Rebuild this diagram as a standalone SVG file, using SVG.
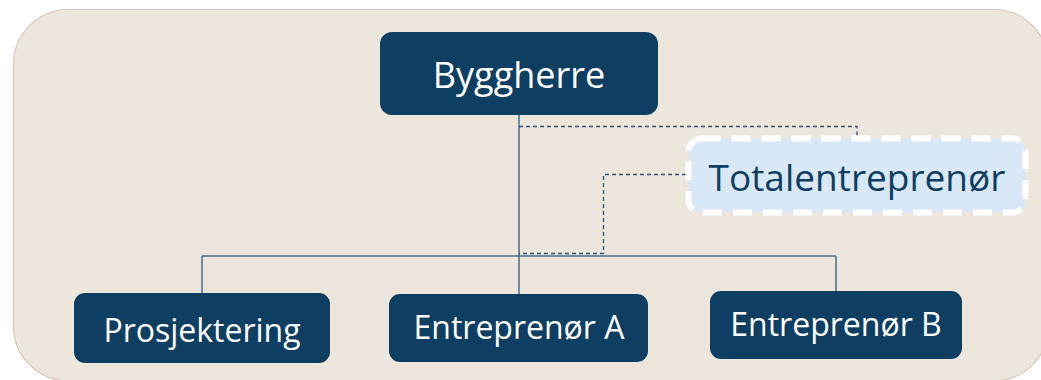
<svg xmlns="http://www.w3.org/2000/svg" width="1041" height="380" viewBox="0 0 1041 380">
  <style>
    .box { fill: #0e3f63; }
    .lbl { font-family: "Open Sans", "Noto Sans", "Liberation Sans", sans-serif; fill: #ffffff; text-anchor: middle; }
    .solid { fill: none; stroke: #4a6b8a; stroke-width: 1.5; }
    .dash { fill: none; stroke: #2c5376; stroke-width: 1.3; stroke-dasharray: 4 3; }
  </style>
  <rect x="13.5" y="9.5" width="1035" height="371.5" rx="55" fill="#ede6dd" stroke="#d3c8ba" stroke-width="1.2"/>
  <g id="connectors">
    <path class="solid" d="M519 115 V295 M202 256 H836 M202 256 V293 M836 256 V291"/>
    <path class="dash" d="M519 126.5 H857 V139"/>
    <path class="dash" d="M686 174.5 H603.5 V253.5 H519"/>
    <path class="dash" d="M857 211 V215"/>
  </g>
  <g id="byggherre">
    <rect class="box" x="380" y="32" width="278" height="83" rx="12"/>
    <text class="lbl" x="519" y="88" font-size="36">Byggherre</text>
  </g>
  <g id="totalentreprenor">
    <rect x="688.5" y="138.5" width="337" height="74" rx="13" fill="#d9e8f6" stroke="#ffffff" stroke-width="6" stroke-dasharray="19 11"/>
    <text class="lbl" x="857" y="190.5" font-size="37" style="fill:#0e3f63">Totalentreprenør</text>
  </g>
  <g id="prosjektering">
    <rect class="box" x="74" y="293" width="256" height="70" rx="11"/>
    <text class="lbl" x="202" y="341.5" font-size="32">Prosjektering</text>
  </g>
  <g id="entreprenor-a">
    <rect class="box" x="389" y="294" width="259" height="68" rx="11"/>
    <text class="lbl" x="519" y="339" font-size="32">Entreprenør A</text>
  </g>
  <g id="entreprenor-b">
    <rect class="box" x="710" y="291" width="252" height="68" rx="11"/>
    <text class="lbl" x="836" y="336" font-size="32">Entreprenør B</text>
  </g>
</svg>
